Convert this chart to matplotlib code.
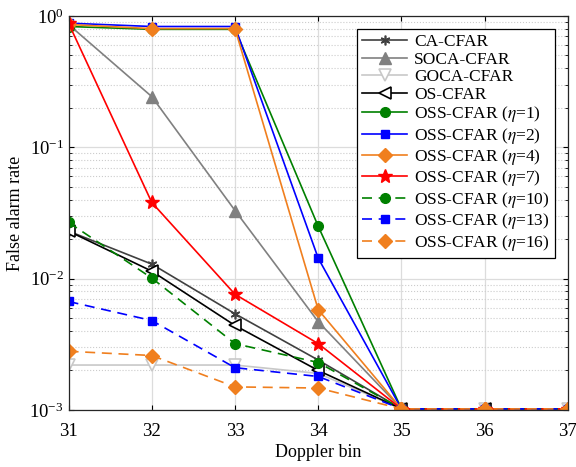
import numpy as np
import matplotlib
matplotlib.use('Agg')
import matplotlib.pyplot as plt

plt.rcParams['font.family'] = ['Liberation Serif', 'DejaVu Serif']
plt.rcParams['mathtext.fontset'] = 'stix'
plt.rcParams['font.size'] = 13

bins = [31, 32, 33, 34, 35, 36, 37]

ca = [0.023, 0.0129, 0.0054, 0.0024, 0.00102, 0.00102, 0.00102]
soca = [0.86, 0.243, 0.033, 0.0047, 0.00102, 0.00102, 0.00102]
goca = [0.0022, 0.0022, 0.0022, 0.0019, 0.00102, 0.00102, 0.00102]
os_cfar = [0.023, 0.0114, 0.0044, 0.0020, 0.00102, 0.00102, 0.00102]
oss1 = [0.83, 0.79, 0.79, 0.025, 0.00102, 0.00102, 0.00102]
oss2 = [0.88, 0.83, 0.83, 0.0143, 0.00102, 0.00102, 0.00102]
oss4 = [0.86, 0.80, 0.80, 0.0058, 0.00102, 0.00102, 0.00102]
oss7 = [0.88, 0.038, 0.0076, 0.0032, 0.00102, 0.00102, 0.00102]
oss10 = [0.0268, 0.0101, 0.0032, 0.0023, 0.00102, 0.00102, 0.00102]
oss13 = [0.0067, 0.0048, 0.0021, 0.0018, 0.00102, 0.00102, 0.00102]
oss16 = [0.0028, 0.0026, 0.0015, 0.00147, 0.00102, 0.00102, 0.00102]

green = '#008000'
blue = '#0000ff'
orange = '#f07f1e'
red = '#ff0000'

fig = plt.figure(figsize=(5.76, 4.67), dpi=100)
ax = fig.add_axes([0.119, 0.122, 0.867, 0.844])

ax.plot(bins, ca, '-', color='#404040', marker=(6, 2, 0), ms=7, mew=1.2, lw=1.2, label='CA-CFAR')
ax.plot(bins, soca, '-', color='#808080', marker='^', ms=8, lw=1.2, label='SOCA-CFAR')
ax.plot(bins, goca, '-', color='#c8c8c8', marker='v', ms=8, mfc='white', mew=1.2, lw=1.2, label='GOCA-CFAR')
ax.plot(bins, os_cfar, '-', color='black', marker='<', ms=8, mfc='white', mew=1.2, lw=1.2, label='OS-CFAR')
ax.plot(bins, oss1, '-', color=green, marker='o', ms=7, lw=1.2, label=r'OSS-CFAR ($\eta$=1)')
ax.plot(bins, oss2, '-', color=blue, marker='s', ms=6, lw=1.2, label=r'OSS-CFAR ($\eta$=2)')
ax.plot(bins, oss4, '-', color=orange, marker='D', ms=7, lw=1.2, label=r'OSS-CFAR ($\eta$=4)')
ax.plot(bins, oss7, '-', color=red, marker='*', ms=10, lw=1.2, label=r'OSS-CFAR ($\eta$=7)')
ax.plot(bins, oss10, '--', color=green, marker='o', ms=7, lw=1.2, dashes=(6, 4), label=r'OSS-CFAR ($\eta$=10)')
ax.plot(bins, oss13, '--', color=blue, marker='s', ms=6, lw=1.2, dashes=(6, 4), label=r'OSS-CFAR ($\eta$=13)')
ax.plot(bins, oss16, '--', color=orange, marker='D', ms=7, lw=1.2, dashes=(6, 4), label=r'OSS-CFAR ($\eta$=16)')

ax.set_yscale('log')
ax.set_xlim(31, 37)
ax.set_ylim(1e-3, 1)
ax.set_xticks(bins)
ax.grid(True, which='major', color='#dcdcdc', lw=0.9)
ax.grid(True, which='minor', color='#cccccc', ls=':', lw=0.8)
ax.set_axisbelow(True)
ax.tick_params(which='both', direction='in', top=True, right=True, labelsize=13.5)
ax.tick_params(axis='x', pad=9)
for s in ax.spines.values():
    s.set_color('#262626')
    s.set_linewidth(0.9)

ax.set_xlabel('Doppler bin', fontsize=13, labelpad=3)
ax.set_ylabel('False alarm rate', fontsize=13, labelpad=4)

leg = ax.legend(loc='upper right', fontsize=12.5, frameon=True, fancybox=False,
                edgecolor='black', framealpha=1, borderaxespad=0.75,
                handlelength=2.6, labelspacing=0.08, handletextpad=0.4, borderpad=0.3)
leg.get_frame().set_linewidth(0.9)

fig.savefig('out.png', dpi=100)
